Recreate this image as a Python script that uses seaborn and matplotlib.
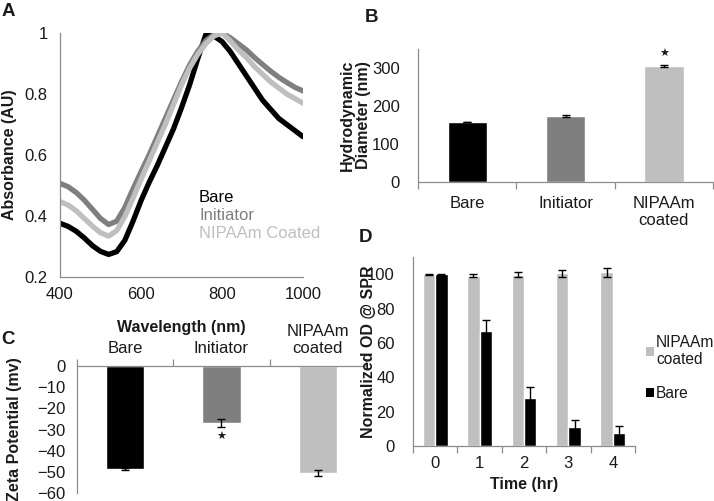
import matplotlib
matplotlib.use("Agg")
import matplotlib.pyplot as plt
import seaborn as sns
import pandas as pd
from matplotlib.patches import Patch
from matplotlib.ticker import FixedLocator, FuncFormatter

# === DATA ===
wavelength = [400, 420, 440, 460, 480, 500, 520, 540, 560, 580, 600, 620, 640, 660, 680, 700,
              720, 740, 760, 780, 800, 820, 840, 860, 880, 900, 920, 940, 960, 980, 1000]
abs_bare = [0.376, 0.366, 0.350, 0.328, 0.303, 0.284, 0.274, 0.283, 0.320, 0.382, 0.450, 0.510,
            0.565, 0.625, 0.685, 0.755, 0.830, 0.915, 0.995, 0.990, 0.972, 0.940, 0.900, 0.860,
            0.820, 0.780, 0.750, 0.720, 0.700, 0.680, 0.660]
abs_initiator = [0.507, 0.496, 0.477, 0.452, 0.422, 0.392, 0.372, 0.383, 0.428, 0.488, 0.545,
                 0.600, 0.660, 0.720, 0.780, 0.840, 0.895, 0.940, 0.975, 0.995, 1.000, 0.985,
                 0.965, 0.945, 0.920, 0.897, 0.875, 0.855, 0.838, 0.822, 0.810]
abs_nipaam = [0.447, 0.436, 0.417, 0.392, 0.367, 0.345, 0.334, 0.352, 0.398, 0.458, 0.520,
              0.580, 0.640, 0.700, 0.765, 0.830, 0.885, 0.930, 0.965, 0.990, 1.000, 0.975,
              0.945, 0.920, 0.890, 0.865, 0.840, 0.820, 0.800, 0.785, 0.770]
spectra_names = ["Bare", "Initiator", "NIPAAm Coated"]

samples = ["Bare", "Initiator", "NIPAAm\ncoated"]
diameter = [158, 174, 305]
diameter_err = [1, 3, 3]
diameter_star = [False, False, True]

zeta = [-48.5, -27.0, -50.5]
zeta_err = [0.5, 2.0, 1.6]
zeta_star = [False, True, False]

time_hr = ["0", "1", "2", "3", "4"]
od_nipaam = [100.0, 99.2, 99.8, 100.4, 101.0]
od_nipaam_err = [0.3, 0.8, 1.6, 1.8, 2.4]
od_bare = [100.0, 67.0, 28.0, 11.2, 7.8]
od_bare_err = [0.2, 6.5, 6.6, 3.8, 3.6]
od_names = ["NIPAAm\ncoated", "Bare"]

# === STYLE ===
BLACK = "#000000"
DARK = "#7f7f7f"
LIGHT = "#bfbfbf"
SPINE = "#8c8c8c"
TXT = "#1a1a1a"
FS = 12          # tick / category labels
FSL = 11.5       # bold axis labels

sns.set_theme(style="white")
plt.rcParams['font.family'] = ['Liberation Sans', 'DejaVu Sans']
plt.rcParams['font.size'] = FS
plt.rcParams['text.color'] = TXT
plt.rcParams['axes.labelcolor'] = TXT
plt.rcParams['xtick.color'] = TXT
plt.rcParams['ytick.color'] = TXT


def style_spines(ax, keep):
    for name, sp in ax.spines.items():
        sp.set_visible(name in keep)
        sp.set_color(SPINE)
        sp.set_linewidth(0.9)
    ax.tick_params(axis='both', colors=SPINE, labelcolor=TXT, labelsize=FS,
                   width=0.9, length=4, direction='out')


def category_ticks(ax, n, pad, top=False):
    # Excel style: tick marks between categories, labels at centers
    ax.xaxis.set_ticks_position('top' if top else 'bottom')
    ax.xaxis.set_minor_locator(FixedLocator([i - 0.5 for i in range(n + 1)]))
    ax.tick_params(axis='x', which='minor', length=5, width=0.9, color=SPINE)
    ax.tick_params(axis='x', which='major', length=0, pad=pad)
    if top:
        ax.xaxis.set_label_position('top')
    ax.set_xlim(-0.5, n - 0.5)


def bar_centers(ax):
    return sorted((p.get_x() + p.get_width() / 2, p.get_height()) for p in ax.patches)


fig = plt.figure(figsize=(7.14, 5.01), dpi=100)
W, H = 714, 501


def px_axes(left, top, right, bottom):
    return fig.add_axes([left / W, 1 - bottom / H, (right - left) / W, (bottom - top) / H])


# === Panel A: absorbance spectra ===
axA = px_axes(60, 33, 303, 277)
spec = pd.DataFrame({
    "wavelength": wavelength * 3,
    "absorbance": abs_bare + abs_initiator + abs_nipaam,
    "sample": [n for n in spectra_names for _ in wavelength],
})
sns.lineplot(data=spec, x="wavelength", y="absorbance", hue="sample",
             palette=[BLACK, DARK, LIGHT], hue_order=spectra_names,
             linewidth=3.8, ax=axA, legend=True)
axA.set_xlim(400, 1000)
axA.set_ylim(0.2, 1.0)
axA.set_xticks([400, 600, 800, 1000])
axA.set_yticks([0.2, 0.4, 0.6, 0.8, 1.0])
axA.yaxis.set_major_formatter(FuncFormatter(lambda v, p: f"{v:g}"))
style_spines(axA, ("left", "bottom"))
axA.tick_params(axis='x', pad=3)
axA.tick_params(axis='y', pad=5)
axA.set_ylabel("Absorbance (AU)", fontweight="bold", fontsize=FSL)
axA.yaxis.set_label_coords(-0.175, 0.5)
axA.set_xlabel("Wavelength (nm)", fontweight="bold", fontsize=FSL)
axA.xaxis.set_label_coords(0.5, -0.175)
leg = axA.legend(loc="upper left", bbox_to_anchor=(0.545, 0.385), frameon=False,
                 handlelength=0, handletextpad=0, labelspacing=0.2,
                 labelcolor="linecolor", fontsize=FS, borderaxespad=0)
for h in leg.legend_handles:
    h.set_visible(False)

# === Panel B: hydrodynamic diameter ===
axB = px_axes(418, 49, 713, 182)
sns.barplot(x=samples, y=diameter, hue=samples, palette=[BLACK, DARK, LIGHT],
            width=0.4, legend=False, ax=axB, saturation=1)
for (xc, h), err, star in zip(bar_centers(axB), diameter_err, diameter_star):
    axB.errorbar(xc, h, yerr=err, fmt='none', ecolor=BLACK, elinewidth=1, capsize=3, capthick=1)
    if star:
        axB.text(xc, h + err + 30, "★", ha="center", va="center", fontsize=8,
                 family=['DejaVu Sans'])
axB.set_ylim(0, 350)
axB.set_yticks([0, 100, 200, 300])
style_spines(axB, ("left", "bottom"))
category_ticks(axB, 3, pad=10)
axB.tick_params(axis='y', pad=9, length=4)
axB.set_ylabel("Hydrodynamic\nDiameter (nm)", fontweight="bold", fontsize=FSL, linespacing=1.1)
axB.yaxis.set_label_coords(-0.158, 0.5)

# === Panel C: zeta potential ===
axC = px_axes(77, 366, 366, 493)
sns.barplot(x=samples, y=zeta, hue=samples, palette=[BLACK, DARK, LIGHT],
            width=0.4, legend=False, ax=axC, saturation=1)
for (xc, h), err, star in zip(bar_centers(axC), zeta_err, zeta_star):
    axC.errorbar(xc, h, yerr=err, fmt='none', ecolor=BLACK, elinewidth=1, capsize=3, capthick=1)
    if star:
        axC.text(xc, h - err - 4.5, "★", ha="center", va="center", fontsize=8,
                 family=['DejaVu Sans'])
axC.set_ylim(-60, 0)
axC.set_yticks([0, -10, -20, -30, -40, -50, -60])
style_spines(axC, ("left", "top"))
category_ticks(axC, 3, pad=7, top=True)
axC.set_xlabel("")
axC.tick_params(axis='y', pad=4, length=4)
axC.set_ylabel("Zeta Potential (mv)", fontweight="bold", fontsize=FSL)
axC.yaxis.set_label_coords(-0.19, 0.5)

# === Panel D: stability over time ===
axD = px_axes(413, 257, 635, 446)
od = pd.DataFrame({
    "time": time_hr * 2,
    "od": od_nipaam + od_bare,
    "group": [n for n in od_names for _ in time_hr],
})
sns.barplot(data=od, x="time", y="od", hue="group", hue_order=od_names,
            palette=[LIGHT, BLACK], width=0.56, ax=axD, saturation=1, legend=False)
centers = [p.get_x() + p.get_width() / 2 for p in axD.patches][:10]
for xc, h, err in zip(centers, od_nipaam + od_bare, od_nipaam_err + od_bare_err):
    axD.errorbar(xc, h, yerr=err, fmt='none', ecolor=BLACK, elinewidth=1, capsize=3, capthick=1)
axD.set_ylim(0, 110)
axD.set_yticks([0, 20, 40, 60, 80, 100])
style_spines(axD, ("left", "bottom"))
category_ticks(axD, 5, pad=7)
axD.tick_params(axis='y', pad=9, length=4)
axD.set_xlabel("Time (hr)", fontweight="bold", fontsize=FSL)
axD.xaxis.set_label_coords(0.5, -0.165)
axD.set_ylabel("Normalized OD @ SPR", fontweight="bold", fontsize=FSL)
axD.yaxis.set_label_coords(-0.168, 0.5)
handles = [Patch(facecolor=LIGHT, edgecolor='none'), Patch(facecolor=BLACK, edgecolor='none')]
axD.legend(handles, od_names, loc="upper left", bbox_to_anchor=(1.02, 0.62), frameon=False,
           handlelength=0.55, handleheight=0.55, handletextpad=0.12, labelspacing=1.2,
           fontsize=11.2, borderaxespad=0)

# === Panel letters ===
for letter, x, y in [("A", 8, 12), ("B", 372, 17), ("C", 8, 340), ("D", 366, 238)]:
    fig.text(x / W, 1 - y / H, letter, fontsize=13.5, fontweight="bold", ha="center", va="center")

fig.savefig("out.png", dpi=100)
